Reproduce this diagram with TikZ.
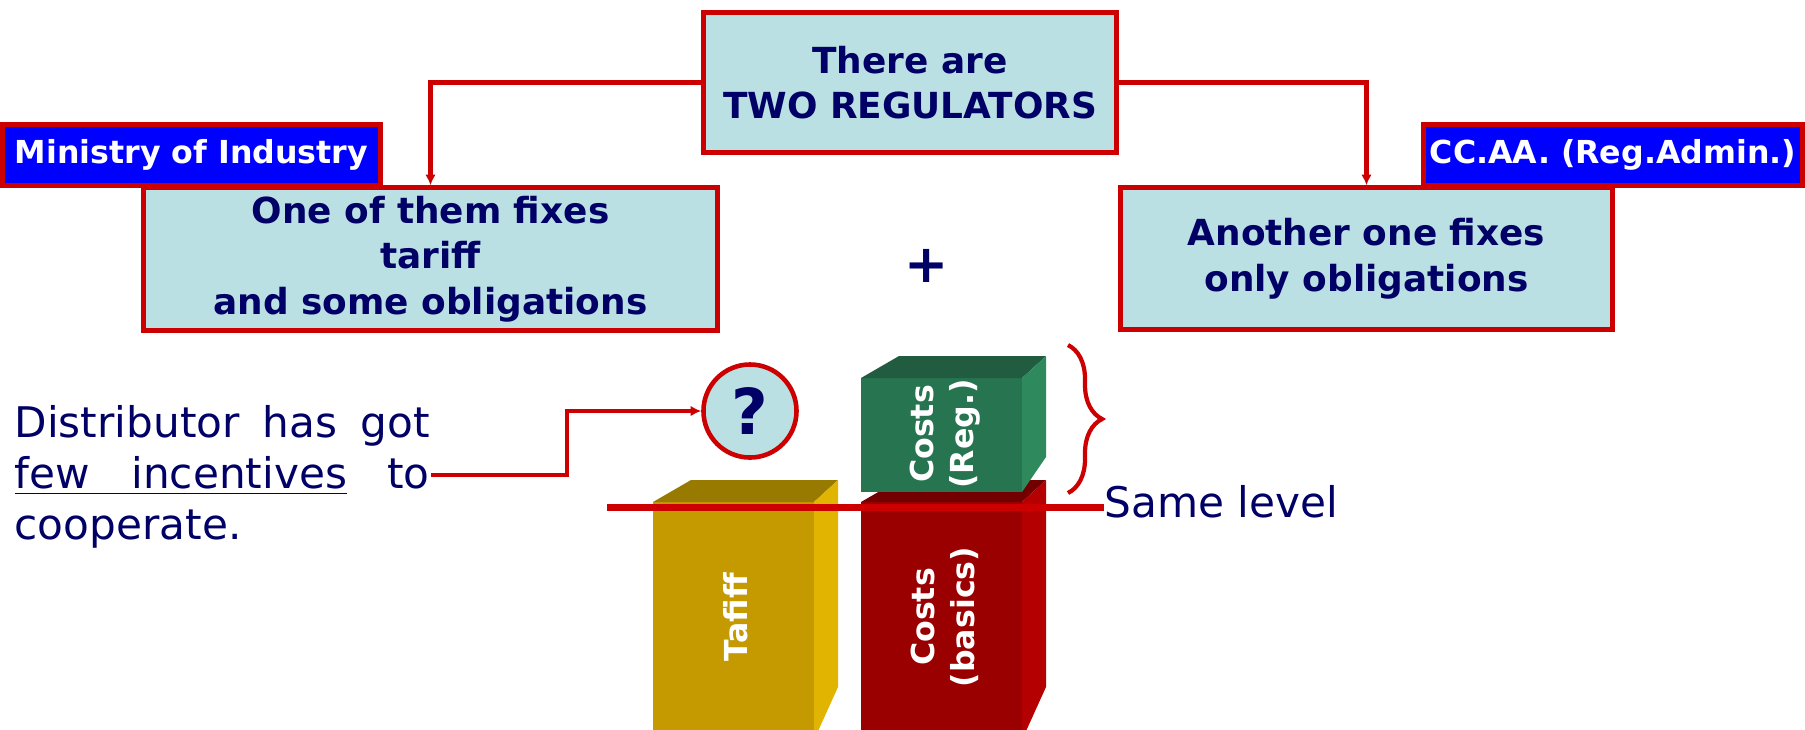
\documentclass[tikz,border=0pt]{standalone}
\usepackage{fontspec}
\setmainfont{DejaVu Sans}
\usetikzlibrary{arrows.meta,decorations.pathreplacing}

\definecolor{navy}{RGB}{0,0,102}
\definecolor{boxred}{RGB}{204,0,0}
\definecolor{paleblue}{RGB}{186,224,227}
\definecolor{royal}{RGB}{0,0,255}
\definecolor{goldfront}{RGB}{196,154,0}
\definecolor{goldside}{RGB}{224,180,0}
\definecolor{goldtop}{RGB}{153,122,0}
\definecolor{redfront}{RGB}{155,0,0}
\definecolor{redside}{RGB}{180,0,0}
\definecolor{redtop}{RGB}{115,0,0}
\definecolor{greenfront}{RGB}{39,117,80}
\definecolor{greenside}{RGB}{46,138,92}
\definecolor{greentop}{RGB}{33,92,64}

% #1 left, #2 right, #3 top, #4 front bottom, #5 back bottom, #6 colour name
\newcommand{\drawprism}[6]{%
  \fill[#6front] (#1,#3) rectangle (#2,#4);
  \fill[#6top] (#1,#3) -- ({#1+38},{#3-22}) -- ({#2+24},{#3-22}) -- (#2,#3) -- cycle;
  \fill[#6side] (#2,#3) -- ({#2+24},{#3-22}) -- ({#2+24},#5) -- (#2,#4) -- cycle;
}

\begin{document}
\begin{tikzpicture}[x=0.01cm, y=-0.01cm,
    textbox/.style={draw=boxred, line width=1.3pt, fill=paleblue, text=navy,
      font=\fontsize{10.2}{13}\selectfont\bfseries, align=center, inner sep=0pt},
    tag/.style={draw=boxred, line width=1.3pt, fill=royal, text=white,
      font=\fontsize{9}{11}\selectfont\bfseries, inner sep=0pt, minimum height=0.61cm},
    conn/.style={boxred, line width=1.3pt, -{Latex[length=3pt,width=3pt]}},
    barlabel/.style={rotate=90, text=white, align=center, inner sep=0pt,
      font=\fontsize{9}{11.4}\selectfont\bfseries}]
  \useasboundingbox (0,0) rectangle (1805,729);

  \node[textbox, minimum width=4.13cm, minimum height=1.40cm] (reg) at (910,82.5) {There are\\TWO REGULATORS};
  \node[textbox, minimum width=5.74cm, minimum height=1.43cm] (one) at (430.5,259) {One of them fixes\\tariff\\and some obligations};
  \node[textbox, minimum width=4.92cm, minimum height=1.42cm] (two) at (1366.5,258.5) {Another one fixes\\only obligations};
  \node[tag, minimum width=3.78cm] (mini) at (191.5,155) {Ministry of Industry};
  \node[tag, minimum width=3.79cm] (ccaa) at (1613,155) {CC.AA. (Reg.Admin.)};
  \draw[conn] (reg.west) -| (one.north);
  \draw[conn] (reg.east) -| (two.north);
  \node[text=navy, font=\fontsize{15}{15}\selectfont\bfseries] (plus) at (927,266) {+};

  \node[circle, draw=boxred, line width=1.3pt, fill=paleblue, minimum size=0.93cm, inner sep=0pt,
    text=navy, font=\fontsize{18}{18}\selectfont\bfseries] (q) at (750,411) {?};
  \node[anchor=base west, text width=118pt, align=left, inner sep=0pt, text=navy,
    font=\fontsize{12}{14.5}\selectfont] (dist) at (14,437)
    {Distributor\hfill has\hfill got\\
     \underline{few\hspace{11.8pt}incentives}\hfill to\\
     cooperate.};
  \coordinate (to) at (431,475);
  \draw[conn] (to) -- ++(136,0) |- (q.west);

  \drawprism{653}{814}{502}{740}{687}{gold}
  \drawprism{861}{1022}{502}{740}{687}{red}
  \drawprism{861}{1022}{378}{492}{457}{green}
  \node[barlabel] (tariff) at (736,617) {Tafiff};
  \node[barlabel] (basics) at (945,617) {Costs\\(basics)};
  \node[barlabel] (regcost) at (945,434) {Costs\\(Reg.)};

  \coordinate (lvl) at (607,507);
  \node[anchor=base west, inner sep=0pt, text=navy, font=\fontsize{12}{14}\selectfont] (same) at (1104,517) {Same level};
  \draw[boxred, line width=2pt] (lvl) -- (lvl -| same.west);
  \draw[boxred, line width=1.2pt, decorate, decoration={brace, amplitude=0.34cm}] (1068,345) -- (1068,493);
\end{tikzpicture}
\end{document}
